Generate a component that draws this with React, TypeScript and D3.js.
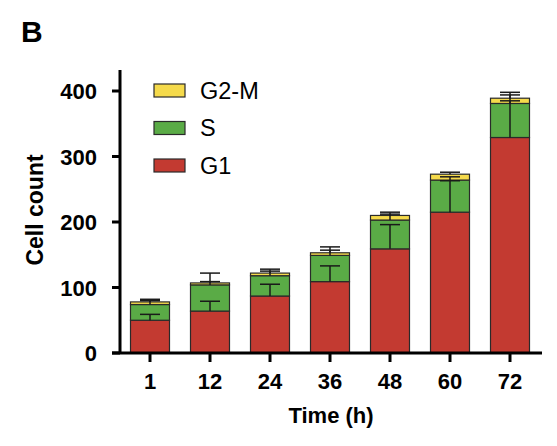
import * as d3 from "d3";

const times = ["1", "12", "24", "36", "48", "60", "72"];
const phases = ["G1", "S", "G2-M"];
const g1 = [50, 64, 87, 109, 159, 215, 329];
const s = [24, 40, 31, 40, 44, 49, 52];
const g2m = [4, 3, 4, 4, 7, 9, 8];
const g1Err = [9, 15, 18, 24, 37, 48, 56];
const sErr = [6, 5, 7, 8, 9, 5, 13];
const g2mErr = [4, 15, 6, 9, 5, 3, 9];
const yTicks = [0, 100, 200, 300, 400];

const colors: Record<string, string> = {
  G1: "#c33a31",
  S: "#5aab46",
  "G2-M": "#f5da4b",
};

export default function App() {
  const x = d3
    .scaleBand<string>()
    .domain(times)
    .range([120, 540])
    .paddingInner(0.35)
    .paddingOuter(0.175);
  const y = d3.scaleLinear().domain([0, 400]).range([353, 91]);

  const rows = times.map((t, i) => ({ t, G1: g1[i], S: s[i], "G2-M": g2m[i] }));
  const errs: Record<string, number[]> = { G1: g1Err, S: sErr, "G2-M": g2mErr };
  const stacked = d3.stack<any>().keys(phases)(rows);

  const bw = x.bandwidth();
  const capW = 20;
  const font = "Arial, 'Liberation Sans', sans-serif";

  return (
    <svg
      width={557}
      height={446}
      style={{ position: "absolute", left: 0, top: 0, background: "#fff" }}
      fontFamily={font}
    >
      <text x={21} y={42} fontSize={30} fontWeight="bold">B</text>

      {/* bars */}
      {stacked.map(layer => (
        <g key={layer.key}>
          {layer.map((d, i) => (
            <rect
              key={i}
              x={x(times[i])}
              y={y(d[1])}
              width={bw}
              height={y(d[0]) - y(d[1])}
              fill={colors[layer.key]}
              stroke="#2a2a2a"
              strokeWidth={1.2}
            />
          ))}
        </g>
      ))}

      {/* error bars, up from each segment top */}
      {stacked.map(layer => (
        <g key={"e" + layer.key} stroke="#1a1a1a" strokeWidth={1.5}>
          {layer.map((d, i) => {
            const cx = (x(times[i]) as number) + bw / 2;
            const top = y(d[1] + errs[layer.key][i]);
            return (
              <g key={i}>
                <line x1={cx} x2={cx} y1={y(d[1])} y2={top} />
                <line x1={cx - capW / 2} x2={cx + capW / 2} y1={top} y2={top} />
              </g>
            );
          })}
        </g>
      ))}

      {/* axes */}
      <g stroke="#000" strokeWidth={3}>
        <line x1={120} x2={120} y1={70} y2={354} />
        <line x1={112} x2={542} y1={353} y2={353} />
        {yTicks.map(v => (
          <line key={v} x1={112} x2={120} y1={y(v)} y2={y(v)} />
        ))}
        {times.map(t => (
          <line
            key={t}
            x1={(x(t) as number) + bw / 2}
            x2={(x(t) as number) + bw / 2}
            y1={353}
            y2={362}
          />
        ))}
      </g>
      {yTicks.map(v => (
        <text
          key={v}
          x={97}
          y={y(v) + 8}
          textAnchor="end"
          fontSize={22}
          fontWeight="bold"
        >
          {v}
        </text>
      ))}
      {times.map(t => (
        <text
          key={t}
          x={(x(t) as number) + bw / 2}
          y={389}
          textAnchor="middle"
          fontSize={22}
          fontWeight="bold"
        >
          {t}
        </text>
      ))}
      <text x={331} y={423} textAnchor="middle" fontSize={22} fontWeight="bold">
        Time (h)
      </text>
      <text
        transform="translate(43,210) rotate(-90)"
        textAnchor="middle"
        fontSize={23}
        fontWeight="bold"
      >
        Cell count
      </text>

      {/* legend */}
      {[...phases].reverse().map((p, i) => (
        <g key={p} transform={`translate(154,${84 + i * 37.5})`}>
          <rect width={31} height={13} fill={colors[p]} stroke="#2a2a2a" strokeWidth={1.2} />
          <text x={46} y={14.5} fontSize={23.5}>{p}</text>
        </g>
      ))}
    </svg>
  );
}
